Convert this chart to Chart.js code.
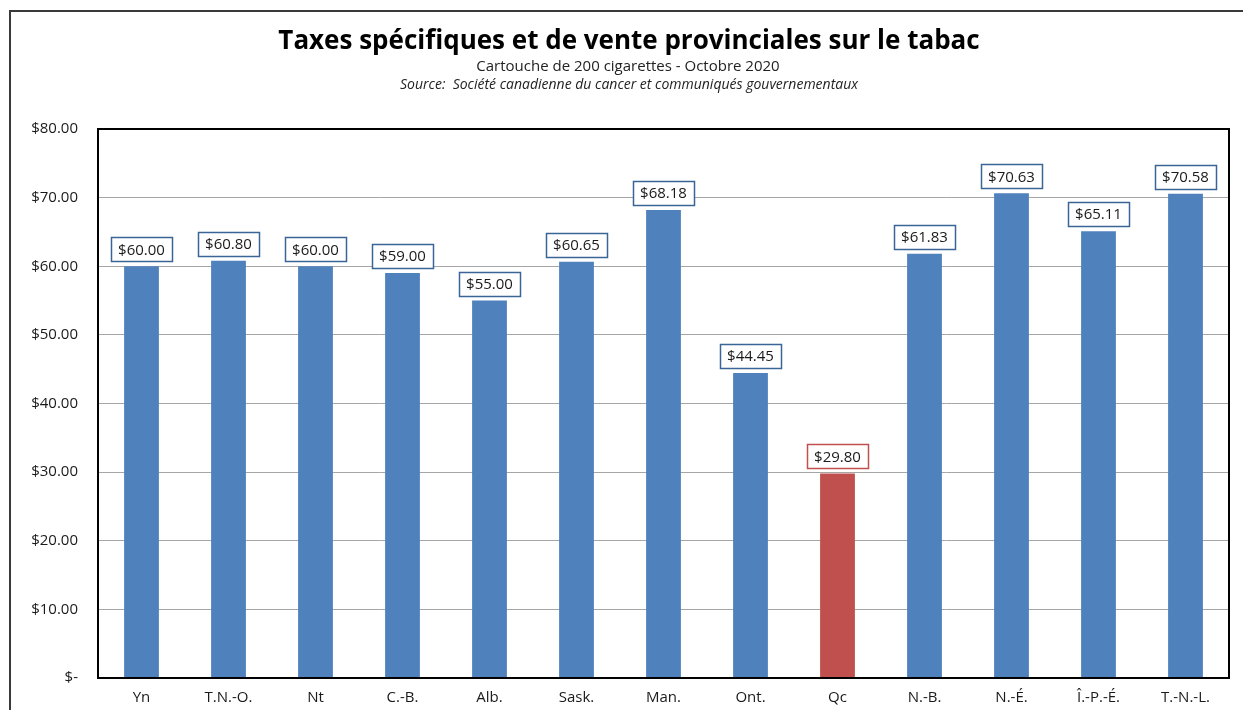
<!DOCTYPE html>
<html>
<head>
<meta charset="utf-8">
<script src="https://cdn.jsdelivr.net/npm/chart.js@4/dist/chart.umd.min.js"></script>
<style>
  html, body { margin: 0; padding: 0; background: #fff; }
  #wrap { width: 1243px; height: 710px; }
</style>
</head>
<body>
<div id="wrap"><canvas id="myChart" width="1243" height="710"></canvas></div>
<script>
var categories = ['Yn', 'T.N.-O.', 'Nt', 'C.-B.', 'Alb.', 'Sask.', 'Man.', 'Ont.', 'Qc', 'N.-B.', 'N.-É.', 'Î.-P.-É.', 'T.-N.-L.'];
var taxes = [60.00, 60.80, 60.00, 59.00, 55.00, 60.65, 68.18, 44.45, 29.80, 61.83, 70.63, 65.11, 70.58];
var yTicks = [0, 10, 20, 30, 40, 50, 60, 70, 80];

var titleText = 'Taxes spécifiques et de vente provinciales sur le tabac';
var subtitleText = 'Cartouche de 200 cigarettes - Octobre 2020';
var sourceText = 'Source:  Société canadienne du cancer et communiqués gouvernementaux';

var blue = '#4f81bd';
var red = '#c0504d';
var barColors = categories.map(function (c) { return c === 'Qc' ? red : blue; });
var boxColors = categories.map(function (c) { return c === 'Qc' ? '#c0504d' : '#3b6596'; });

function money(v) {
    if (v === 0) return '$-';
    return '$' + v.toFixed(2);
}

document.addEventListener('DOMContentLoaded', function () {
    var font = "'Open Sans', sans-serif";

    // frame, headers, plot border and value boxes
    var decor = {
        id: 'decor',
        beforeDraw: function (chart) {
            var c = chart.ctx;
            c.save();
            c.fillStyle = '#fff';
            c.fillRect(0, 0, chart.width, chart.height);
            c.strokeStyle = '#3a3a3a';
            c.lineWidth = 2;
            c.strokeRect(10, 11, chart.width + 20, chart.height + 20);

            c.textAlign = 'center';
            c.textBaseline = 'middle';
            c.fillStyle = '#000';
            c.font = "bold 26px " + font;
            c.fillText(titleText, 629, 42);
            c.fillStyle = '#222';
            c.font = "15px " + font;
            c.fillText(subtitleText, 628, 67);
            c.font = "italic 14px " + font;
            c.fillText(sourceText, 629, 85);
            c.restore();
        },
        afterDatasetsDraw: function (chart) {
            var c = chart.ctx;
            var a = chart.chartArea;
            c.save();
            c.strokeStyle = '#000';
            c.lineWidth = 2;
            c.strokeRect(a.left, a.top, a.right - a.left, a.bottom - a.top);

            var meta = chart.getDatasetMeta(0);
            c.font = "15px " + font;
            c.textAlign = 'center';
            c.textBaseline = 'middle';
            meta.data.forEach(function (bar, i) {
                var txt = money(taxes[i]);
                var w = c.measureText(txt).width + 14;
                var h = 24;
                var x = bar.x - w / 2;
                var y = bar.y - 5 - h;
                c.fillStyle = '#fff';
                c.fillRect(x, y, w, h);
                c.strokeStyle = boxColors[i];
                c.lineWidth = 1.5;
                c.strokeRect(Math.round(x) + 0.5, Math.round(y) + 0.5, Math.round(w), h);
                c.fillStyle = '#1a1a1a';
                c.fillText(txt, bar.x, y + h / 2 + 1);
            });
            c.restore();
        }
    };

    var ctx = document.getElementById('myChart').getContext('2d');
    var myChart = new Chart(ctx, {
        type: 'bar',
        data: {
            labels: categories,
            datasets: [{
                data: taxes,
                backgroundColor: barColors,
                borderWidth: 0,
                barPercentage: 0.4,
                categoryPercentage: 1
            }]
        },
        options: {
            responsive: false,
            animation: false,
            layout: { padding: { left: 0, top: 129, right: 14, bottom: 0 } },
            plugins: {
                legend: { display: false },
                tooltip: { enabled: false }
            },
            scales: {
                x: {
                    grid: { display: false, drawTicks: false },
                    border: { display: false },
                    ticks: {
                        padding: 11,
                        color: '#1a1a1a',
                        font: { family: font, size: 15 }
                    },
                    afterFit: function (s) { s.height = 32; }
                },
                y: {
                    min: 0,
                    max: 80,
                    afterBuildTicks: function (s) {
                        s.ticks = yTicks.map(function (v) { return { value: v }; });
                    },
                    grid: { color: '#a6a6a6', lineWidth: 1, drawTicks: false },
                    border: { display: false },
                    ticks: {
                        padding: 20,
                        color: '#1a1a1a',
                        font: { family: font, size: 15 },
                        callback: function (v) { return money(v); }
                    },
                    afterFit: function (s) { s.width = 98; }
                }
            }
        },
        plugins: [decor]
    });
});
</script>
</body>
</html>
